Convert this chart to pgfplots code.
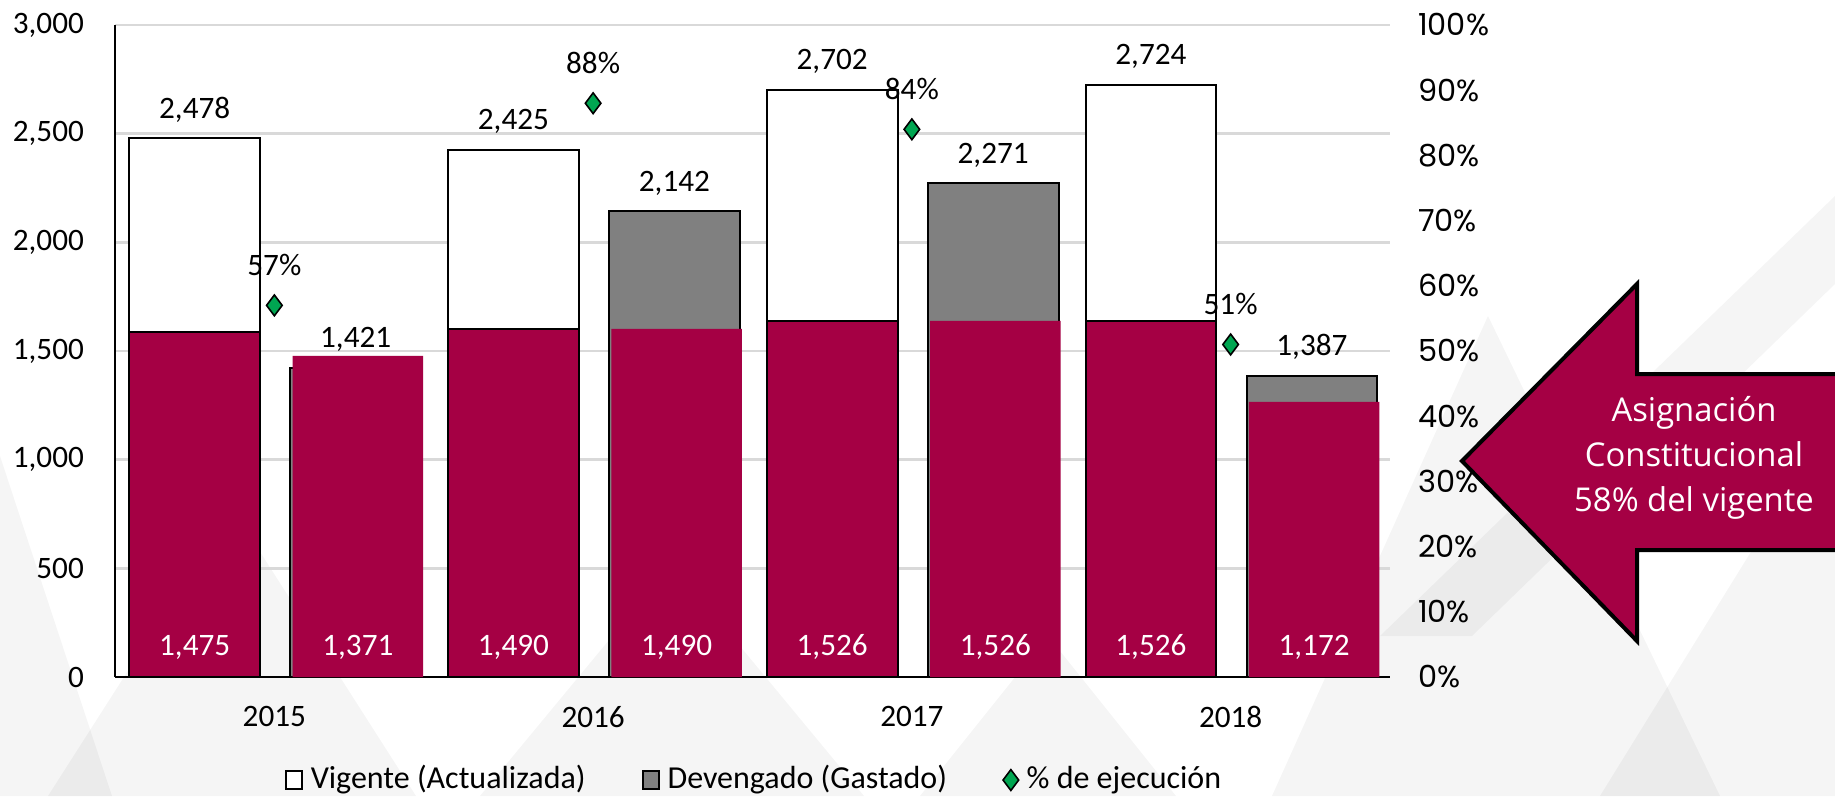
\documentclass[border=0pt]{standalone}
\usepackage{fontspec}
\setmainfont{Carlito}
\newfontfamily\poppins{Poppins}
\newfontfamily\opensans{Open Sans}
\usepackage{pgfplots}
\usepackage{pgfplotstable}
\pgfplotsset{compat=1.18}

\definecolor{guinda}{HTML}{A50044}
\definecolor{gris}{HTML}{808080}
\definecolor{verde}{HTML}{00A651}
\definecolor{rejilla}{HTML}{D9D9D9}

% vig/dev: vigente y devengado; cvig/cdev: altura dibujada de la asignacion; lvig/ldev: etiqueta
\pgfplotstableread{
x vig dev pct cvig cdev lvig ldev
0 2478 1421 57 1588 1478 1475 1371
1 2425 2142 88 1602 1602 1490 1490
2 2702 2271 84 1639 1639 1526 1526
3 2724 1387 51 1639 1266 1526 1172
}\datos

\tikzset{etq/.style={font=\fontsize{7.8}{9}\selectfont}}
\pgfplotsset{
  comun/.style={
    at={(28.75pt,29.75pt)}, anchor=south west,
    scale only axis, width=318.75pt, height=163pt,
    xmin=-0.5, xmax=3.5,
    major tick length=0pt,
    /pgf/number format/1000 sep={,},
    /pgf/number format/assume math mode=true,
  },
  caja/.style={legend image code/.code={\draw[##1] (0pt,-2.3pt) rectangle (4pt,2.3pt);}},
}

\begin{document}
\begin{tikzpicture}[x=1pt,y=1pt]
\path[use as bounding box] (0,0) rectangle (458.75,199);
\clip (0,0) rectangle (458.75,199);
\fill[white] (0,0) rectangle (458.75,199);
% fondo
\begin{scope}[opacity=0.04]
  \fill[black] (0,0) -- (0,85) -- (28,0) -- cycle;
  \fill[black] (12,0) -- (58,72) -- (104,0) -- cycle;
  \fill[black] (120,0) -- (168,58) -- (216,0) -- cycle;
  \fill[black] (230,0) -- (262,40) -- (294,0) -- cycle;
  \fill[black] (318,0) -- (372,120) -- (430,0) -- cycle;
  \fill[black] (400,0) -- (458.75,95) -- (458.75,0) -- cycle;
  \fill[black] (345,40) -- (458.75,150) -- (458.75,128) -- (368,40) -- cycle;
\end{scope}

\begin{axis}[comun,
  ymin=0, ymax=3000,
  axis x line*=bottom, axis y line*=left,
  axis line style={black, line width=0.5pt},
  xtick={0,1,2,3}, xticklabels={2015,2016,2017,2018},
  ytick={0,500,...,3000},
  ymajorgrids, grid style={rejilla, line width=0.7pt},
  tick label style={etq},
  yticklabel style={xshift=-4.25pt},
  xticklabel style={yshift=-3.75pt},
  bar width=0.41,
  nodes near coords style={etq, black, yshift=0.5pt},
]
\addplot[ybar, bar shift=0pt, fill=white, draw=black, line width=0.5pt,
  nodes near coords] table[x expr=\thisrow{x}-0.25, y=vig] {\datos};
\addplot[ybar, bar shift=0pt, fill=gris, draw=black, line width=0.5pt,
  nodes near coords] table[x expr=\thisrow{x}+0.255, y=dev] {\datos};
\addplot[ybar, bar shift=0pt, fill=guinda, draw=black, line width=0.5pt]
  table[x expr=\thisrow{x}-0.25, y=cvig] {\datos};
\addplot[ybar, bar shift=0pt, fill=guinda, draw=none]
  table[x expr=\thisrow{x}+0.262, y=cdev] {\datos};
\addplot[draw=none, mark=none, nodes near coords, point meta=explicit,
  nodes near coords style={white, yshift=0.25pt}]
  table[x expr=\thisrow{x}-0.25, y expr=0, meta=lvig] {\datos};
\addplot[draw=none, mark=none, nodes near coords, point meta=explicit,
  nodes near coords style={white, yshift=0.25pt}]
  table[x expr=\thisrow{x}+0.262, y expr=0, meta=ldev] {\datos};
\end{axis}

\begin{axis}[comun,
  ymin=0, ymax=100,
  axis x line=none, axis y line*=right,
  y axis line style={draw=none},
  ytick={0,10,...,100},
  yticklabel={\pgfmathprintnumber{\tick}\%},
  yticklabel style={font=\poppins\fontsize{7.6}{9}\selectfont, xshift=3.5pt},
  legend style={at={(0.5035,-0.158)}, anchor=center, draw=none, fill=none,
    font=\fontsize{8}{9}\selectfont, legend columns=3,
    /tikz/every even column/.append style={column sep=12pt}},
  legend cell align=left,
]
\addlegendimage{caja, fill=white, draw=black, line width=0.5pt}
\addlegendentry{Vigente (Actualizada)}
\addlegendimage{caja, fill=gris, draw=black, line width=0.5pt}
\addlegendentry{Devengado (Gastado)}
\addplot[only marks, mark=diamond*, mark size=2.6pt,
  mark options={fill=verde, draw=black, line width=0.4pt},
  nodes near coords={\pgfmathprintnumber{\pgfplotspointmeta}\%},
  nodes near coords style={etq, black, yshift=3.9pt}]
  table[x=x, y=pct] {\datos};
\addlegendentry{\% de ejecución}
\end{axis}

% flecha
\filldraw[fill=guinda, draw=black, line width=1pt, line join=miter]
  (365.5,83.75) -- (409.25,128) -- (409.25,105.5) -- (470,105.5)
  -- (470,61.5) -- (409.25,61.5) -- (409.25,38.75) -- cycle;
\node[white, align=center, font=\opensans\fontsize{8.2}{11.3}\selectfont]
  at (423.5,84.5) {Asignación\\Constitucional\\58\% del vigente};
\end{tikzpicture}
\end{document}
